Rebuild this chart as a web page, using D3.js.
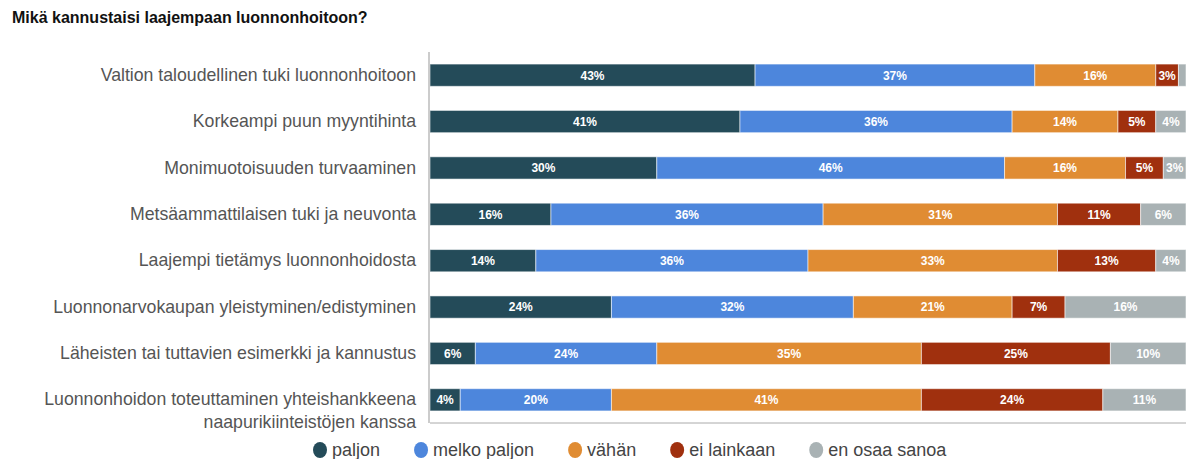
<!DOCTYPE html>
<html lang="fi">
  <head>
    <meta charset="utf-8" />
    <title>Mikä kannustaisi laajempaan luonnonhoitoon?</title>
    <script type="text/javascript" src="https://d3js.org/d3.v7.min.js"></script>
    <style>
      body { margin: 0; background: #fff; }
      svg { font-family: "Liberation Sans", Arial, sans-serif; }
    </style>
  </head>
  <body>
    <div id="chart"></div>
    <script type="text/javascript">
      /********************************
       * data
       ********************************/

      const categories = [
        "Valtion taloudellinen tuki luonnonhoitoon",
        "Korkeampi puun myyntihinta",
        "Monimuotoisuuden turvaaminen",
        "Metsäammattilaisen tuki ja neuvonta",
        "Laajempi tietämys luonnonhoidosta",
        "Luonnonarvokaupan yleistyminen/edistyminen",
        "Läheisten tai tuttavien esimerkki ja kannustus",
        "Luonnonhoidon toteuttaminen yhteishankkeena|naapurikiinteistöjen kanssa",
      ];

      const seriesNames = ["paljon", "melko paljon", "vähän", "ei lainkaan", "en osaa sanoa"];

      const paljon = [43, 41, 30, 16, 14, 24, 6, 4];
      const melkoPaljon = [37, 36, 46, 36, 36, 32, 24, 20];
      const vahan = [16, 14, 16, 31, 33, 21, 35, 41];
      const eiLainkaan = [3, 5, 5, 11, 13, 7, 25, 24];
      const enOsaa = [1, 4, 3, 6, 4, 16, 10, 11];

      const colors = ["#244b59", "#4d86dc", "#e08c33", "#a0300e", "#a9b2b4"];

      const seriesValues = [paljon, melkoPaljon, vahan, eiLainkaan, enOsaa];

      // table for d3.stack
      const rows = categories.map((c, i) => {
        const r = { category: c };
        seriesNames.forEach((s, j) => (r[s] = seriesValues[j][i]));
        return r;
      });

      /***************************
       * svg
       **************************/

      const width = 1197;
      const height = 459;
      const margin = { top: 52, right: 11, bottom: 36, left: 430 };

      const svg = d3
        .select("div#chart")
        .append("svg")
        .attr("width", width)
        .attr("height", height);

      svg
        .append("text")
        .attr("x", 12)
        .attr("y", 23)
        .attr("font-size", 16)
        .attr("font-weight", "bold")
        .attr("fill", "#111")
        .text("Mikä kannustaisi laajempaan luonnonhoitoon?");

      /************************
       * scales
       ***********************/

      const x = d3
        .scaleLinear()
        .domain([0, 100])
        .range([margin.left, width - margin.right]);

      const y = d3
        .scaleBand()
        .domain(categories)
        .range([margin.top, height - margin.bottom])
        .paddingInner(0.52)
        .paddingOuter(0.26);

      const color = d3.scaleOrdinal().domain(seriesNames).range(colors);

      const stacked = d3.stack().keys(seriesNames)(rows);

      /*******************
       * bars
       *********************/

      const layers = svg
        .append("g")
        .selectAll("g")
        .data(stacked)
        .join("g")
        .attr("fill", (d) => color(d.key));

      layers
        .selectAll("rect")
        .data((d) => d)
        .join("rect")
        .attr("x", (d) => x(d[0]))
        .attr("y", (d) => y(d.data.category))
        .attr("width", (d) => x(d[1]) - x(d[0]))
        .attr("height", y.bandwidth())
        .attr("stroke", "#ffffff")
        .attr("stroke-opacity", 0.55)
        .attr("stroke-width", 1);

      layers
        .selectAll("text")
        .data((d) => d.filter((s) => x(s[1]) - x(s[0]) > 18))
        .join("text")
        .attr("x", (d) => (x(d[0]) + x(d[1])) / 2)
        .attr("y", (d) => y(d.data.category) + y.bandwidth() / 2)
        .attr("dy", "0.36em")
        .attr("text-anchor", "middle")
        .attr("font-size", 12)
        .attr("font-weight", "bold")
        .attr("fill", "#ffffff")
        .text((d) => Math.round(d[1] - d[0]) + "%");

      /*******************
       * axes
       *********************/

      const yAxis = svg
        .append("g")
        .attr("transform", `translate(${margin.left - 1},0)`)
        .call(d3.axisLeft(y).tickSize(0).tickPadding(13));

      yAxis.select(".domain").attr("stroke", "#999");
      yAxis.select(".domain").attr("d", `M0,${margin.top}V${height - margin.bottom}`);

      yAxis
        .selectAll(".tick text")
        .attr("font-size", 17.7)
        .attr("font-family", "Liberation Sans, Arial, sans-serif")
        .attr("fill", "#555")
        .each(function (d) {
          const parts = d.split("|");
          if (parts.length > 1) {
            const t = d3.select(this).text(null);
            parts.forEach((p, i) => {
              t.append("tspan")
                .attr("x", -13)
                .attr("dy", i === 0 ? "0.32em" : "1.3em")
                .text(p);
            });
          }
        });

      svg
        .append("line")
        .attr("x1", margin.left)
        .attr("x2", width - margin.right)
        .attr("y1", height - margin.bottom)
        .attr("y2", height - margin.bottom)
        .attr("stroke", "#aaa")
        .attr("stroke-width", 1);

      /*******************
       * legend
       ***********************/

      const legend = svg.append("g").attr("transform", "translate(313,450)");
      let lx = 0;
      seriesNames.forEach((s) => {
        const item = legend.append("g").attr("transform", `translate(${lx},0)`);
        item
          .append("ellipse")
          .attr("cx", 7)
          .attr("cy", 0)
          .attr("rx", 7)
          .attr("ry", 8)
          .attr("fill", color(s));
        const t = item
          .append("text")
          .attr("x", 19)
          .attr("dy", "0.35em")
          .attr("font-size", 18)
          .attr("fill", "#444")
          .text(s);
        lx += 19 + t.node().getComputedTextLength() + 34;
      });
    </script>
  </body>
</html>
